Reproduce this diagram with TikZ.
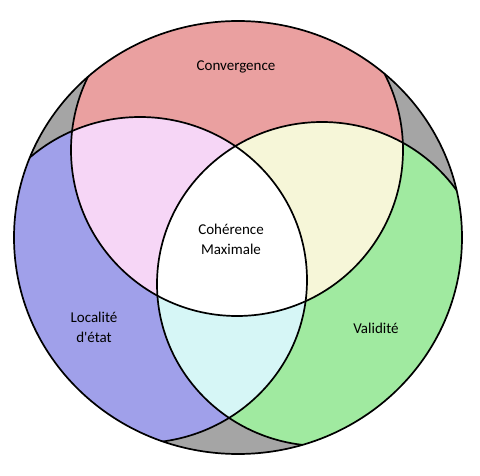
\documentclass[tikz,border=0pt]{standalone}
\usepackage{fontspec}
\newfontfamily\labelfont{Carlito}
\definecolor{convred}{RGB}{234,160,160}
\definecolor{locblue}{RGB}{160,160,234}
\definecolor{valgreen}{RGB}{160,234,160}
\definecolor{convloc}{RGB}{246,214,246}
\definecolor{convval}{RGB}{246,246,216}
\definecolor{locval}{RGB}{214,246,246}
\definecolor{outgrey}{RGB}{165,165,165}

\newcommand{\outershape}{(238,237.5) ellipse [x radius=224, y radius=216.5]}
\newcommand{\convshape}{(237,150) ellipse [x radius=166, y radius=166]}
\newcommand{\locshape}{(140,280) ellipse [x radius=167, y radius=163]}
\newcommand{\valshape}{(322,284) ellipse [x radius=165, y radius=162]}

\begin{document}
\begin{tikzpicture}[x=1pt, y=-1pt, line width=1.7pt,
  label/.style={align=center, font=\labelfont\fontsize{15}{20}\selectfont}]

\useasboundingbox (0,0) rectangle (480,476);

\fill [outgrey] \outershape;

\begin{scope}
\clip \outershape;
\fill [convred] \convshape;
\fill [locblue] \locshape;
\fill [valgreen] \valshape;
\begin{scope}
\clip \convshape;
\fill [convloc] \locshape;
\fill [convval] \valshape;
\end{scope}
\begin{scope}
\clip \locshape;
\fill [locval] \valshape;
\end{scope}
\begin{scope}
\clip \convshape;
\clip \locshape;
\fill [white] \valshape;
\end{scope}
\draw \convshape;
\draw \locshape;
\draw \valshape;
\end{scope}

\draw \outershape;

\node [label] (conv) at (236, 67) {Convergence};
\node [label] (coh) at (231, 239) {Cohérence\\Maximale};
\node [label] (loc) at (94, 327) {Localité\\d'état};
\node [label] (val) at (376, 328) {Validité};

\end{tikzpicture}
\end{document}
